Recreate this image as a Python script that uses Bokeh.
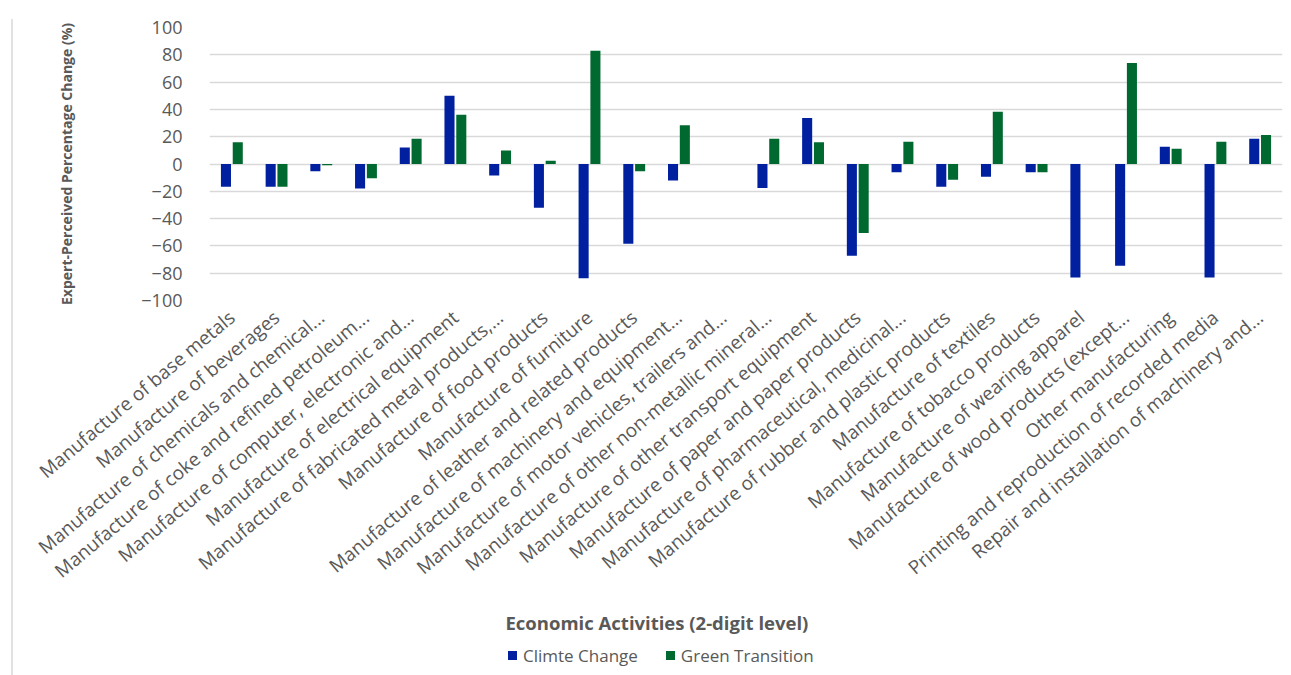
from math import radians

from bokeh.embed import file_html
from bokeh.layouts import column, row
from bokeh.models import (ColumnDataSource, Div, FactorRange, FixedTicker, Range1d,
                          Title)
from bokeh.plotting import figure
from bokeh.resources import INLINE
from bokeh.transform import dodge

# Economic activities (NACE 2-digit manufacturing divisions)
activities = [
    "Manufacture of base metals",
    "Manufacture of beverages",
    "Manufacture of chemicals and chemical...",
    "Manufacture of coke and refined petroleum...",
    "Manufacture of computer, electronic and...",
    "Manufacture of electrical equipment",
    "Manufacture of fabricated metal products,...",
    "Manufacture of food products",
    "Manufacture of furniture",
    "Manufacture of leather and related products",
    "Manufacture of machinery and equipment...",
    "Manufacture of motor vehicles, trailers and...",
    "Manufacture of other non-metallic mineral...",
    "Manufacture of other transport equipment",
    "Manufacture of paper and paper products",
    "Manufacture of pharmaceutical, medicinal...",
    "Manufacture of rubber and plastic products",
    "Manufacture of textiles",
    "Manufacture of tobacco products",
    "Manufacture of wearing apparel",
    "Manufacture of wood products (except...",
    "Other manufacturing",
    "Printing and reproduction of recorded media",
    "Repair and installation of machinery and...",
]

# Expert-perceived percentage change (%)
climate_change = [-16.7, -16.7, -5.4, -18.0, 12.0, 50.0, -8.5, -32.0, -83.7, -58.5,
                  -12.0, 0.0, -17.6, 33.7, -67.3, -6.1, -16.6, -9.3, -6.1, -83.2,
                  -74.6, 12.7, -83.2, 18.5]
green_transition = [16.0, -16.7, -1.0, -10.5, 18.5, 36.0, 9.8, 2.4, 83.0, -5.4,
                    28.3, 0.0, 18.5, 16.0, -50.5, 16.3, -11.5, 38.3, -6.1, 0.0,
                    74.0, 11.2, 16.3, 21.2]

series_names = ["Climte Change", "Green Transition"]

y_ticks = [-100, -80, -60, -40, -20, 0, 20, 40, 60, 80, 100]

BLUE = "#0020a0"
GREEN = "#00692f"
TEXT = "#595959"
FONT = "Open Sans"

source = ColumnDataSource(dict(activity=activities,
                               climate=climate_change,
                               green=green_transition))

p = figure(
    x_range=FactorRange(factors=activities),
    y_range=Range1d(-100, 100),
    width=1278, height=645,
    output_backend="svg", toolbar_location=None,
    min_border_left=196, min_border_right=9,
    min_border_top=27, min_border_bottom=345,
)
p.outline_line_color = None
p.background_fill_color = "white"
p.border_fill_color = "white"

p.vbar(x=dodge("activity", -0.132, range=p.x_range), top="climate", bottom=0,
       width=0.225, source=source, fill_color=BLUE, line_color=None)
p.vbar(x=dodge("activity", 0.132, range=p.x_range), top="green", bottom=0,
       width=0.225, source=source, fill_color=GREEN, line_color=None)

# grid
p.xgrid.visible = False
p.ygrid.ticker = FixedTicker(ticks=y_ticks)
p.ygrid.grid_line_color = "#d9d9d9"
p.ygrid.grid_line_width = 1.6

# y axis
p.yaxis.ticker = FixedTicker(ticks=y_ticks)
p.yaxis.axis_line_color = None
p.yaxis.major_tick_line_color = None
p.yaxis.minor_tick_line_color = None
p.yaxis.major_label_text_font = FONT
p.yaxis.major_label_text_font_size = "18px"
p.yaxis.major_label_text_color = TEXT
p.yaxis.major_label_standoff = 21
p.yaxis.axis_label = "Expert-Perceived Percentage Change (%)"
p.yaxis.axis_label_text_font = FONT
p.yaxis.axis_label_text_font_size = "14px"
p.yaxis.axis_label_text_font_style = "bold"
p.yaxis.axis_label_text_color = TEXT
p.yaxis.axis_label_standoff = 62

# x axis
p.xaxis.axis_line_color = None
p.xaxis.major_tick_line_color = None
p.xaxis.minor_tick_line_color = None
p.xaxis.major_label_orientation = radians(40)
p.xaxis.major_label_text_font = FONT
p.xaxis.major_label_text_font_size = "19px"
p.xaxis.major_label_text_color = TEXT
p.xaxis.major_label_standoff = 8

x_title = Title(text="Economic Activities (2-digit level)", align="left", offset=296,
                text_font=FONT, text_font_size="18.5px", text_font_style="bold",
                text_color=TEXT, standoff=22)
p.add_layout(x_title, "below")

# legend row under the axis title
swatch = ('<span style="display:inline-block;width:9px;height:9px;background:{c};'
          'margin-right:6px;vertical-align:middle;position:relative;top:-1px"></span>')
legend_html = (
    '<div style="padding-left:495px;font-family:\'Open Sans\';font-size:17px;'
    'color:{t};white-space:nowrap;line-height:20px">'
    '{s1}<span style="vertical-align:middle">{n1}</span>'
    '<span style="display:inline-block;width:28px"></span>'
    '{s2}<span style="vertical-align:middle">{n2}</span></div>'
).format(t=TEXT, s1=swatch.format(c=BLUE), n1=series_names[0],
         s2=swatch.format(c=GREEN), n2=series_names[1])
legend_div = Div(text=legend_html, width=1278, height=30, margin=(0, 0, 0, 0))

edge = Div(text="", width=13, height=656, margin=(19, 0, 0, 0),
           styles={"border-right": "2px solid #e2e2e2", "box-sizing": "border-box"})

layout = row(edge, column(p, legend_div, spacing=0), spacing=0)

open("out.html", "w").write(file_html(layout, INLINE))
